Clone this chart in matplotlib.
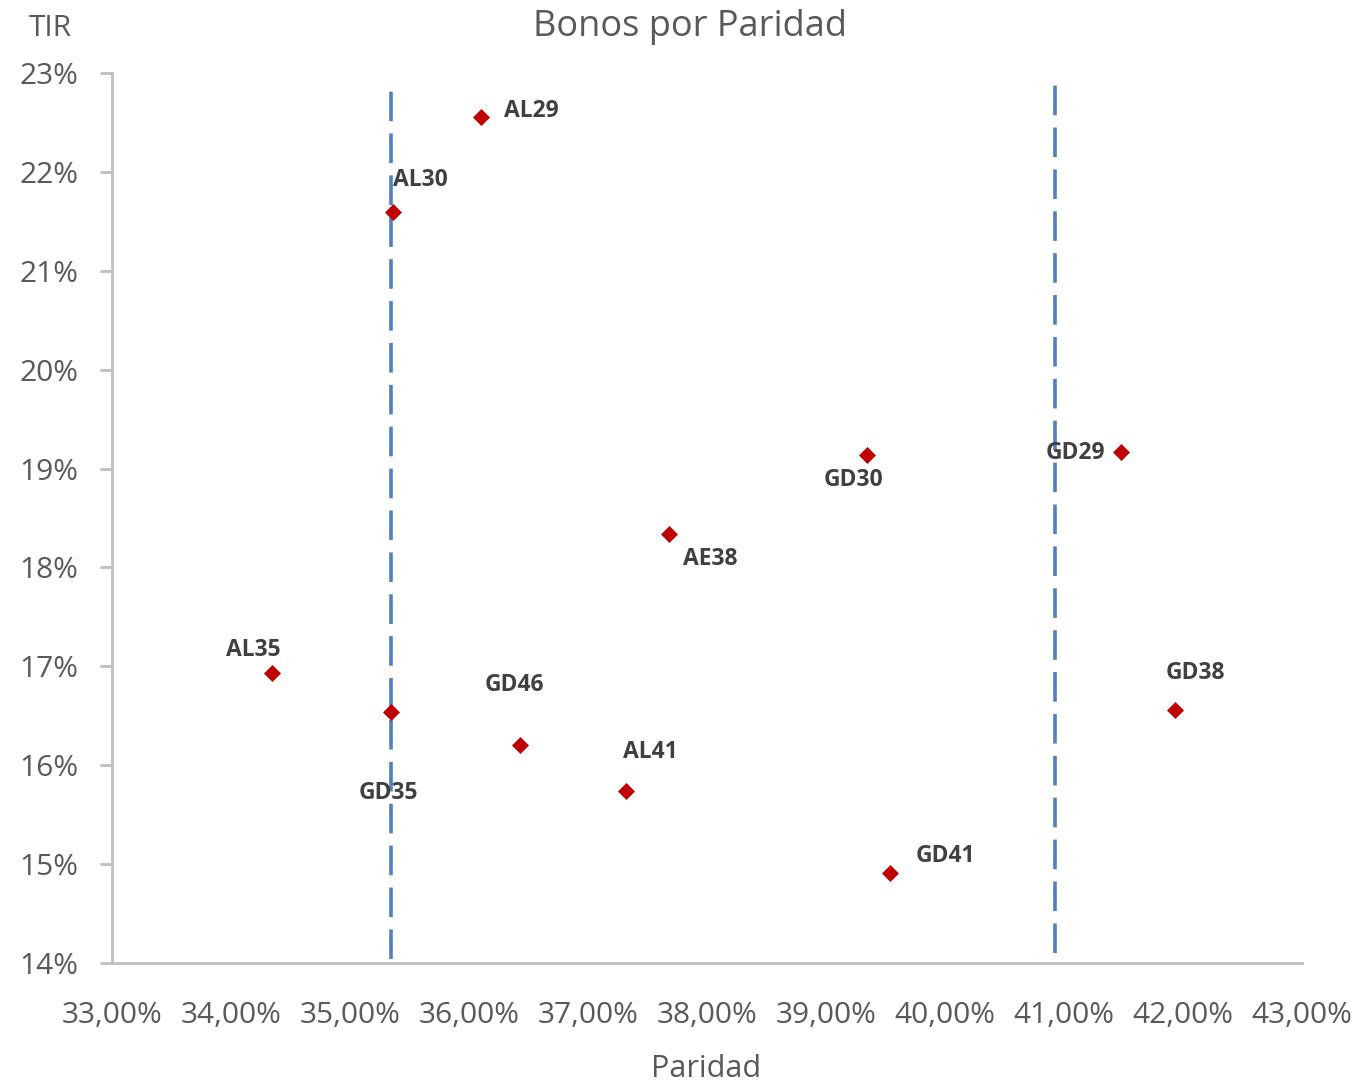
import matplotlib.pyplot as plt
from matplotlib.ticker import FuncFormatter

plt.rcParams['font.family'] = ['Open Sans', 'DejaVu Sans']

# datos: paridad (%) y TIR (%)
bonos = ['AL29', 'AL30', 'GD30', 'GD29', 'AE38', 'AL35', 'GD35', 'GD38', 'GD46', 'AL41', 'GD41']
paridad = [36.10, 35.36, 39.34, 41.48, 37.68, 34.34, 35.34, 41.93, 36.43, 37.32, 39.54]
tir = [22.55, 21.59, 19.14, 19.17, 18.34, 16.93, 16.54, 16.56, 16.20, 15.74, 14.91]
# desplazamiento de etiquetas (px) y alineacion
offs = [(23, 6), (0, 32), (-13, -25), (-16, -1), (14, -25), (-18, 23), (-2, -81), (21, 37), (-6, 60), (24, 39), (55, 17)]
alins = ['left', 'left', 'center', 'right', 'left', 'center', 'center', 'center', 'center', 'center', 'center']

# lineas verticales de referencia
ref_x = [35.34, 40.92]
ref_y0 = [14.04, 14.10]
ref_y1 = [22.88, 22.93]

fig = plt.figure(figsize=(13.63, 10.84), dpi=100)
ax = fig.add_axes([0.0822, 0.1116, 0.8731, 0.8211])

for x, a, b in zip(ref_x, ref_y0, ref_y1):
    ax.plot([x, x], [a, b], color='#4f81bd', linewidth=2.6, dashes=(8.2, 3.4), zorder=2)

ax.scatter(paridad, tir, marker='D', s=75, color='#c00000', zorder=3, linewidths=0)

for nom, x, y, o, ha in zip(bonos, paridad, tir, offs, alins):
    ax.annotate(nom, (x, y), xytext=o, textcoords='offset pixels', ha=ha, va='center',
                fontsize=16.5, fontweight='bold', color='#404040')

ax.set_xlim(33, 43)
ax.set_ylim(14, 23)
ax.set_xticks(range(33, 44))
ax.set_yticks(range(14, 24))
ax.xaxis.set_major_formatter(FuncFormatter(lambda v, p: f'{v:.2f}%'.replace('.', ',')))
ax.yaxis.set_major_formatter(FuncFormatter(lambda v, p: f'{v:.0f}%'))

for s in ['top', 'right']:
    ax.spines[s].set_visible(False)
for s in ['left', 'bottom']:
    ax.spines[s].set_color('#bfbfbf')
    ax.spines[s].set_linewidth(2)
ax.tick_params(axis='y', length=8.5, width=2, color='#bfbfbf', pad=16, labelsize=21.5, labelcolor='#595959')
ax.tick_params(axis='x', length=0, pad=27, labelsize=21.5, labelcolor='#595959')

fig.text(0.506, 0.975, 'Bonos por Paridad', ha='center', va='center', fontsize=26, color='#595959')
fig.text(0.037, 0.974, 'TIR', ha='center', va='center', fontsize=21.5, color='#595959')
fig.text(0.518, 0.014, 'Paridad', ha='center', va='center', fontsize=22, color='#595959')

fig.savefig('out.png', dpi=100)
